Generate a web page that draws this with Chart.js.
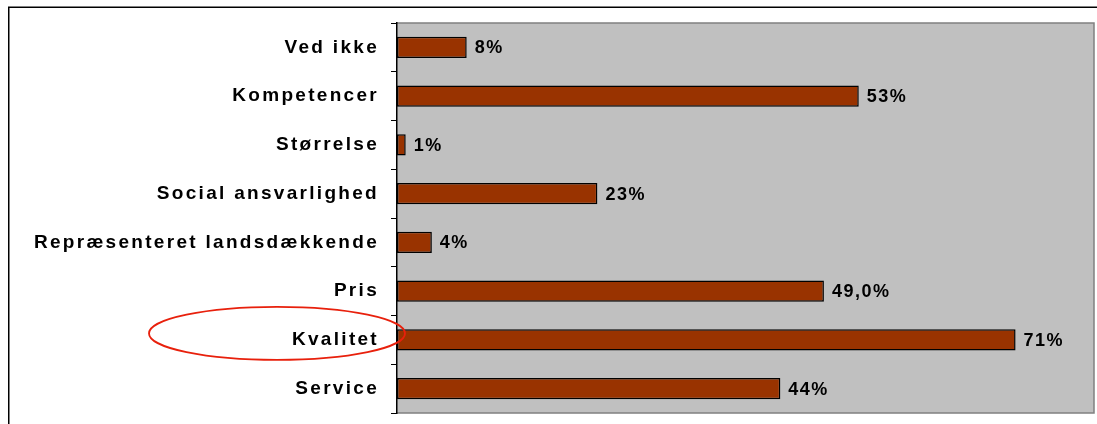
<!DOCTYPE html>
<html>
<head>
<meta charset="utf-8">
<script src="https://cdn.jsdelivr.net/npm/chart.js@4"></script>
<style>
  html, body { margin: 0; padding: 0; background: #fff; }
  #wrap { width: 1097px; height: 424px; position: relative; }
</style>
</head>
<body>
<div id="wrap"><canvas id="myChart"></canvas></div>
<script>
var categories = ['Ved ikke', 'Kompetencer', 'Størrelse', 'Social ansvarlighed', 'Repræsenteret landsdækkende', 'Pris', 'Kvalitet', 'Service'];
var values = [8, 53, 1, 23, 4, 49, 71, 44];
var valueLabels = ['8%', '53%', '1%', '23%', '4%', '49,0%', '71%', '44%'];
var highlighted = 'Kvalitet';

var fontFamily = '"Liberation Sans", Arial, Helvetica, sans-serif';

// gray plot area, letter spacing for the axis labels
var plotBg = {
    id: 'plotBg',
    beforeDraw: function (chart) {
        var a = chart.chartArea, c = chart.ctx;
        c.save();
        c.fillStyle = '#c0c0c0';
        c.fillRect(a.left, a.top, a.right - a.left, a.bottom - a.top);
        c.strokeStyle = '#808080';
        c.lineWidth = 1.5;
        c.beginPath();
        c.moveTo(a.left, a.top);
        c.lineTo(a.right, a.top);
        c.lineTo(a.right, a.bottom);
        c.lineTo(a.left, a.bottom);
        c.stroke();
        c.restore();
        c.letterSpacing = '2.3px';
    },
    afterDraw: function (chart) {
        chart.ctx.letterSpacing = '0px';
    }
};

// value labels to the right of each bar
var valueText = {
    id: 'valueText',
    afterDatasetsDraw: function (chart) {
        var c = chart.ctx;
        var meta = chart.getDatasetMeta(0);
        c.save();
        c.letterSpacing = '1.5px';
        c.font = 'bold 18px ' + fontFamily;
        c.fillStyle = '#000';
        c.textAlign = 'left';
        c.textBaseline = 'middle';
        meta.data.forEach(function (bar, i) {
            c.fillText(valueLabels[i], bar.x + 8, bar.y + 1);
        });
        c.restore();
    }
};

// outer frame and the red ellipse
var extras = {
    id: 'extras',
    afterDraw: function (chart) {
        var c = chart.ctx;
        var y = chart.scales.y;
        var idx = categories.indexOf(highlighted);
        c.save();
        c.letterSpacing = '0px';
        c.strokeStyle = '#000';
        c.lineWidth = 1.5;
        c.strokeRect(8.75, 7.25, 1300, 600);

        c.strokeStyle = '#e8200c';
        c.lineWidth = 1.8;
        c.beginPath();
        c.ellipse(chart.chartArea.left - 120, y.getPixelForValue(idx) - 6.5, 128, 26.5, 0, 0, Math.PI * 2);
        c.stroke();
        c.restore();
    }
};

var ctx = document.getElementById('myChart').getContext('2d');
var myChart = new Chart(ctx, {
    type: 'bar',
    data: {
        labels: categories,
        datasets: [{
            data: values,
            backgroundColor: '#993300',
            borderColor: '#000000',
            borderWidth: 1.5,
            borderSkipped: false,
            barPercentage: 0.44,
            categoryPercentage: 1
        }]
    },
    options: {
        indexAxis: 'y',
        responsive: true,
        maintainAspectRatio: false,
        animation: false,
        layout: { padding: { top: 23, right: 3, bottom: 11, left: 0 } },
        plugins: {
            legend: { display: false },
            tooltip: { enabled: false }
        },
        scales: {
            x: {
                display: false,
                min: 0,
                max: 80
            },
            y: {
                grid: {
                    offset: true,
                    drawOnChartArea: false,
                    tickLength: 6,
                    color: '#000'
                },
                border: { color: '#000', width: 1.5 },
                ticks: {
                    color: '#000',
                    padding: 12,
                    autoSkip: false,
                    font: { family: fontFamily, size: 19, weight: 'bold' }
                },
                afterFit: function (scale) {
                    scale.width = 397;
                    scale.paddingTop = 0;
                    scale.paddingBottom = 0;
                }
            }
        }
    },
    plugins: [plotBg, valueText, extras]
});
</script>
</body>
</html>
